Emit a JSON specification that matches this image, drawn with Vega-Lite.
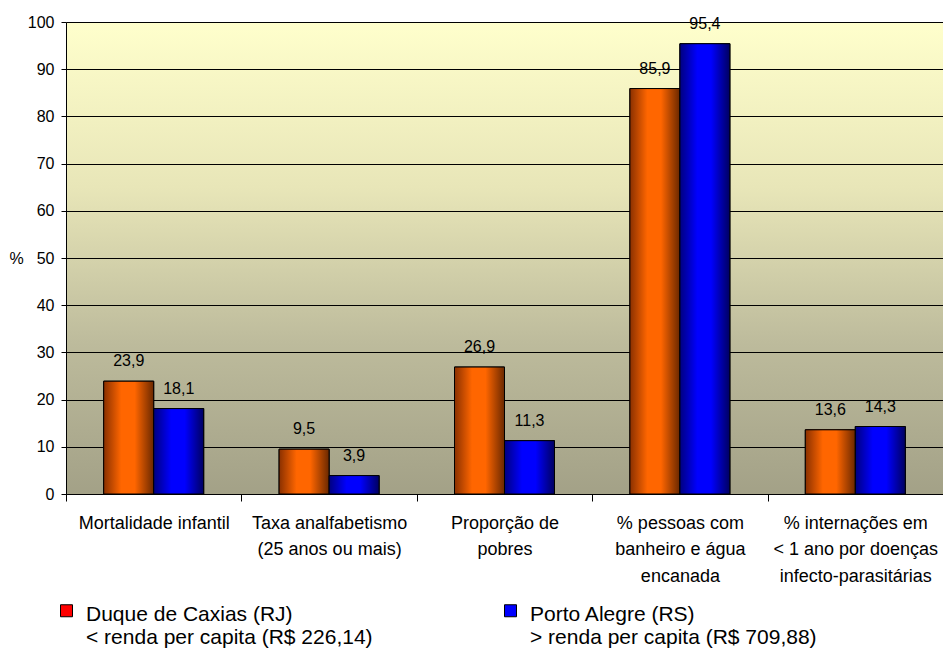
{
  "$schema": "https://vega.github.io/schema/vega-lite/v6.json",
  "autosize": "none",
  "width": 877,
  "height": 472,
  "padding": {"left": 66, "top": 22, "right": 0, "bottom": 154},
  "background": "white",
  "config": {
    "font": "Liberation Sans",
    "locale": {"number": {"decimal": ",", "thousands": ".", "grouping": [3], "currency": ["R$ ", ""]}},
    "view": {
      "stroke": null,
      "fill": {
        "gradient": "linear", "x1": 0, "y1": 0, "x2": 0, "y2": 1,
        "stops": [
          {"offset": 0, "color": "#FFFFCC"},
          {"offset": 0.35, "color": "#E8E6B8"},
          {"offset": 0.68, "color": "#BDBB9C"},
          {"offset": 1, "color": "#A3A187"}
        ]
      }
    },
    "axis": {"labelColor": "#000", "titleColor": "#000", "domainColor": "#000", "tickColor": "#000"}
  },
  "data": {
    "values": [
      {"cat": "Mortalidade infantil", "serie": "Duque de Caxias (RJ)|< renda per capita (R$ 226,14)", "v": 23.9},
      {"cat": "Mortalidade infantil", "serie": "Porto Alegre (RS)|> renda per capita (R$ 709,88)", "v": 18.1},
      {"cat": "Taxa analfabetismo|(25 anos ou mais)", "serie": "Duque de Caxias (RJ)|< renda per capita (R$ 226,14)", "v": 9.5},
      {"cat": "Taxa analfabetismo|(25 anos ou mais)", "serie": "Porto Alegre (RS)|> renda per capita (R$ 709,88)", "v": 3.9},
      {"cat": "Proporção de|pobres", "serie": "Duque de Caxias (RJ)|< renda per capita (R$ 226,14)", "v": 26.9},
      {"cat": "Proporção de|pobres", "serie": "Porto Alegre (RS)|> renda per capita (R$ 709,88)", "v": 11.3},
      {"cat": "% pessoas com|banheiro e água|encanada", "serie": "Duque de Caxias (RJ)|< renda per capita (R$ 226,14)", "v": 85.9},
      {"cat": "% pessoas com|banheiro e água|encanada", "serie": "Porto Alegre (RS)|> renda per capita (R$ 709,88)", "v": 95.4},
      {"cat": "%  internações em|< 1 ano por doenças|infecto-parasitárias", "serie": "Duque de Caxias (RJ)|< renda per capita (R$ 226,14)", "v": 13.6},
      {"cat": "%  internações em|< 1 ano por doenças|infecto-parasitárias", "serie": "Porto Alegre (RS)|> renda per capita (R$ 709,88)", "v": 14.3}
    ]
  },
  "encoding": {
    "x": {
      "field": "cat", "type": "nominal", "sort": null,
      "scale": {"paddingInner": 0, "paddingOuter": 0},
      "axis": {
        "title": null, "labelAngle": 0, "labelFontSize": 18, "labelLineHeight": 26.5,
        "labelExpr": "split(datum.label, '|')", "labelBaseline": "top", "labelPadding": 13,
        "tickBand": "extent", "tickSize": 7, "labelLimit": 300
      }
    },
    "xOffset": {
      "field": "serie", "type": "nominal", "sort": null,
      "scale": {"paddingInner": 0, "paddingOuter": 0.754}
    },
    "y": {
      "field": "v", "type": "quantitative",
      "scale": {"domain": [0, 100], "nice": false},
      "axis": {
        "values": [0, 10, 20, 30, 40, 50, 60, 70, 80, 90, 100],
        "grid": true, "gridColor": "#000", "gridWidth": 1,
        "tickSize": 5, "labelFontSize": 16, "labelPadding": 7,
        "title": "%", "titleAngle": 0, "titleFontSize": 16, "titleFontWeight": "normal",
        "titleX": -50, "titleY": 236, "titleAlign": "center", "titleBaseline": "middle"
      }
    }
  },
  "layer": [
    {
      "mark": {"type": "bar", "stroke": "#000", "strokeWidth": 1},
      "encoding": {
        "color": {
          "field": "serie", "type": "nominal", "sort": null,
          "scale": {"range": ["#FF0000", "#0000FF"]},
          "legend": {
            "title": null, "orient": "none", "legendX": -10, "legendY": 571,
            "direction": "horizontal", "columns": 2, "columnPadding": 127,
            "symbolType": "M-1,0.167H1V2.167H-1Z", "symbolSize": 144,
            "symbolStrokeColor": "#000", "symbolStrokeWidth": 1,
            "labelFontSize": 21, "labelLineHeight": 22, "labelOffset": 9, "labelLimit": 400,
            "labelExpr": "split(datum.label, '|')", "labelBaseline": "top", "labelColor": "#000"
          }
        }
      }
    },
    {
      "transform": [{"filter": "indexof(datum.serie, 'Duque') == 0"}],
      "mark": {
        "type": "bar", "stroke": "#000", "strokeWidth": 1,
        "color": {
          "gradient": "linear", "x1": 0, "y1": 0, "x2": 1, "y2": 0,
          "stops": [
            {"offset": 0, "color": "#8A3000"},
            {"offset": 0.35, "color": "#FF6600"},
            {"offset": 0.62, "color": "#FF6600"},
            {"offset": 1, "color": "#6A2800"}
          ]
        }
      }
    },
    {
      "transform": [{"filter": "indexof(datum.serie, 'Porto') == 0"}],
      "mark": {
        "type": "bar", "stroke": "#000", "strokeWidth": 1,
        "color": {
          "gradient": "linear", "x1": 0, "y1": 0, "x2": 1, "y2": 0,
          "stops": [
            {"offset": 0, "color": "#000080"},
            {"offset": 0.35, "color": "#0000FF"},
            {"offset": 0.62, "color": "#0000FF"},
            {"offset": 1, "color": "#000060"}
          ]
        }
      }
    },
    {
      "mark": {"type": "text", "baseline": "bottom", "dy": -12, "fontSize": 16, "color": "#000"},
      "encoding": {
        "text": {"field": "v", "type": "quantitative", "format": ".1f"}
      }
    }
  ]
}
